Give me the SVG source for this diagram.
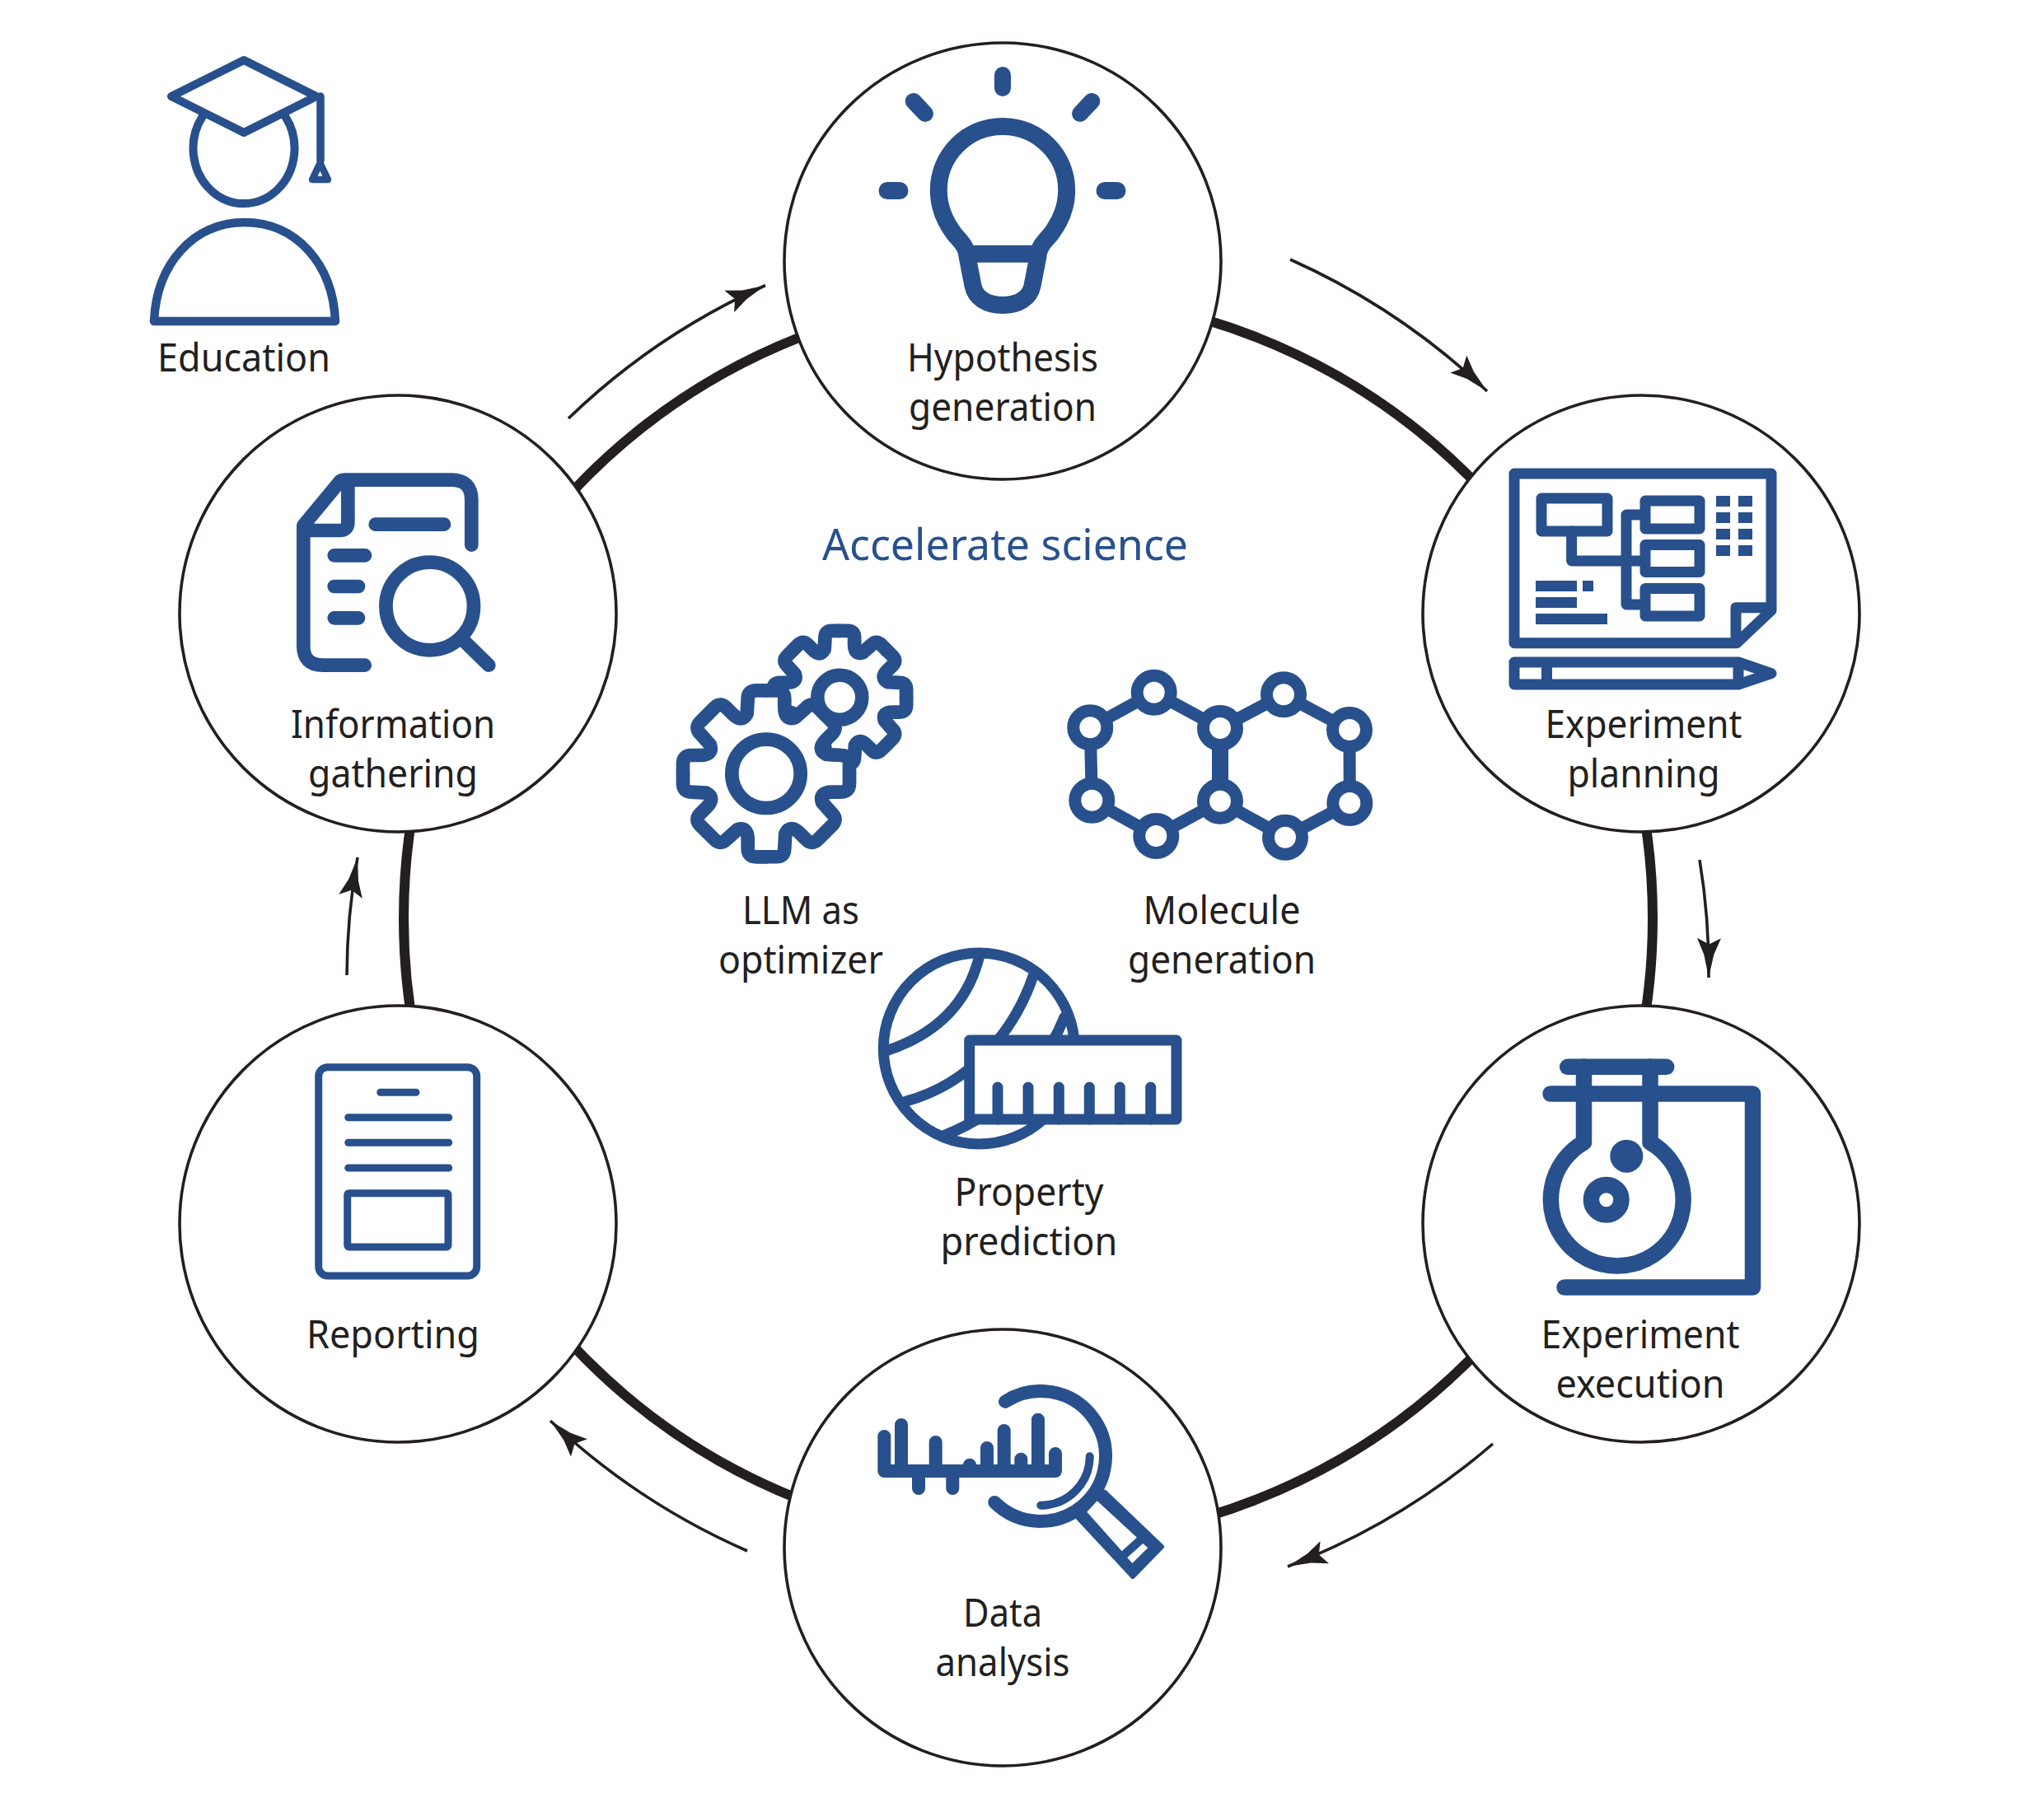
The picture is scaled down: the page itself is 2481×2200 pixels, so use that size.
<svg xmlns="http://www.w3.org/2000/svg" xmlns:xlink="http://www.w3.org/1999/xlink" width="2481" height="2200" viewBox="0 0 2481 2200">
<style>
text{font-family:"Noto Sans","Open Sans","Liberation Sans",sans-serif;font-size:47px;fill:#231f20;text-anchor:middle}
.accel{fill:#28508c;font-size:53px}
.n{fill:#fff;stroke:#231f20;stroke-width:3.6}
.i{fill:none;stroke:#28508c;stroke-linecap:round;stroke-linejoin:round}
.b{fill:#28508c;stroke:none}
.w{fill:#fff;stroke:none}
.arrow{fill:none;stroke:#231f20;stroke-width:3.6}
</style>
<defs>
<marker id="ah" markerUnits="userSpaceOnUse" viewBox="0 0 52 30" refX="50" refY="15" markerWidth="52" markerHeight="30" orient="auto"><path d="M50,15 L22,9 L2,0.5 L9.5,15 L2,29.5 L22,21 Z" fill="#231f20"/></marker>
<path id="gs" d="M0,-101 H12 Q22.3,-101 22.3,-91 V-80 Q22.3,-64 35,-68 L48.6,-80.1 Q55.6,-87.2 62.9,-79.9 L71.4,-71.4"/>
<path id="gw" d="M0,-101 H12 Q22.3,-101 22.3,-91 V-80 Q22.3,-64 35,-68 L48.6,-80.1 Q55.6,-87.2 62.9,-79.9 L71.4,-71.4 L0,0 Z"/>
</defs>
<rect width="2481" height="2200" fill="#fff"/>
<g id="connectors">
<circle cx="1248" cy="1115" r="758" fill="none" stroke="#231f20" stroke-width="12"/>
<path class="arrow" marker-end="url(#ah)" d="M690,508 A835,835 0 0 1 929,346.5"/>
<path class="arrow" marker-end="url(#ah)" d="M1566,315 A850,850 0 0 1 1805,475"/>
<path class="arrow" marker-end="url(#ah)" d="M2063,1044 A825,825 0 0 1 2074,1187"/>
<path class="arrow" marker-end="url(#ah)" d="M1812,1753 A850,850 0 0 1 1563,1902"/>
<path class="arrow" marker-end="url(#ah)" d="M907,1883 A840,840 0 0 1 668,1725"/>
<path class="arrow" marker-end="url(#ah)" d="M421,1184 A825,825 0 0 1 434,1041"/>
</g>
<g id="education">
<path class="i" stroke-width="10" d="M245.4,142 A61.5,67 0 1 0 346.6,142"/>
<path class="i" stroke-width="10" fill="#fff" d="M296,73 L384,117 L296,161 L208,117 Z"/>
<path class="i" stroke-width="9.5" d="M389,117 V195"/>
<path class="i" stroke-width="8.5" d="M388.5,198 L379,218 H398 Z"/>
<path class="i" stroke-width="10.5" d="M187,390 C190,320 235,270 297,270 C359,270 404,320 407,390 Z"/>
<text x="296" y="451" textLength="210" lengthAdjust="spacingAndGlyphs">Education</text>
</g>
<g id="hypothesis">
<circle class="n" cx="1217" cy="317" r="265"/>
<g class="i">
<path stroke-width="20" d="M1217,91 V107 M1108.8,122.9 L1123,138 M1325.2,122.9 L1311,138"/>
<path stroke-width="21" d="M1077,231.5 H1092 M1341,231.5 H1356"/>
<path stroke-width="21" d="M1217,153.4 C1260,153.4 1294.7,188 1294.7,231 C1294.7,255 1285,272 1275,285 C1266,295 1261,300 1260,311 L1253,347 C1250,362 1236,370.5 1217,370.5 C1198,370.5 1184,362 1181,347 L1174,311 C1173,300 1168,295 1159,285 C1149,272 1139.3,255 1139.3,231 C1139.3,188 1174,153.4 1217,153.4 Z M1174,308.3 H1260"/>
</g>
<text x="1217" y="451" textLength="232" lengthAdjust="spacingAndGlyphs">Hypothesis</text>
<text x="1217" y="511" textLength="228" lengthAdjust="spacingAndGlyphs">generation</text>
</g>
<g id="experiment-planning">
<circle class="n" cx="1992" cy="745" r="265"/>
<g class="i" stroke-width="13">
<path d="M1838,575 H2150 V741 L2108,780.7 H1838 Z M2107,780 V737.7 H2150"/>
<rect x="1871" y="605" width="80" height="40"/>
<path d="M1907.6,645 V681 H1990 M1990,625 H1974 V734 H1990"/>
<rect x="1997" y="608" width="66" height="34"/>
<rect x="1997" y="661.5" width="66" height="33"/>
<rect x="1997" y="714.5" width="66" height="33.5"/>
<path d="M1838,804 H2110 L2150,817.7 L2110,831 H1838 Z M1877.5,804 V831 M2110,804 V831"/>
</g>
<path class="b" d="M2083,602h17v13h-17z M2110,602h17v13h-17z M2083,622h17v13h-17z M2110,622h17v13h-17z M2083,642h17v13h-17z M2110,642h17v13h-17z M2083,662h17v13h-17z M2110,662h17v13h-17z M1864,705h50v13h-50z M1921,705h13v13h-13z M1864,725h50v13h-50z M1864,745h87v13h-87z"/>
<text x="1995" y="896" textLength="239" lengthAdjust="spacingAndGlyphs">Experiment</text>
<text x="1995" y="956" textLength="185" lengthAdjust="spacingAndGlyphs">planning</text>
</g>
<g id="experiment-execution">
<circle class="n" cx="1992" cy="1486" r="265"/>
<g class="i" stroke-width="19.5">
<path d="M1902.7,1295.3 H2022.7"/>
<path d="M1882,1328 H2127.5 V1563 H1899"/>
<path d="M1922.5,1295 V1387 A80.4,80.4 0 1 0 2003,1387 V1295"/>
<circle cx="1949.7" cy="1456.7" r="18.3"/>
</g>
<circle class="b" cx="1974.3" cy="1403.7" r="20"/>
<text x="1991" y="1637" textLength="241" lengthAdjust="spacingAndGlyphs">Experiment</text>
<text x="1991" y="1697" textLength="205" lengthAdjust="spacingAndGlyphs">execution</text>
</g>
<g id="data-analysis">
<circle class="n" cx="1217" cy="1879" r="265"/>
<g class="i" stroke-width="16">
<path d="M1073.3,1786 H1281 M1073.3,1786 V1744 M1094,1786 V1730 M1135.7,1786 V1751 M1177,1786 V1778.7 M1198,1786 V1758 M1218.7,1786 V1737 M1239.3,1786 V1771.7 M1260,1786 V1723.7 M1281,1786 V1765 M1115,1786 V1807 M1156.3,1786 V1807"/>
<path d="M1220,1701.7 A79,79 0 1 1 1207.3,1824"/>
<path stroke-width="10" d="M1322.7,1768.3 A59.5,59.5 0 0 1 1263.3,1827.7"/>
</g>
<path d="M1341,1812 L1410,1878 L1375,1914 L1308,1842 Z" fill="#28508c" stroke="#28508c" stroke-width="6" stroke-linejoin="round"/>
<path class="w" d="M1331.7,1822.3 L1380,1866.7 L1361.7,1883.3 L1319.3,1835.7 Z M1387.3,1874 L1393.3,1879.3 L1374.3,1898 L1368.3,1891 Z"/>
<text x="1217" y="1975" textLength="96" lengthAdjust="spacingAndGlyphs">Data</text>
<text x="1217" y="2035" textLength="163" lengthAdjust="spacingAndGlyphs">analysis</text>
</g>
<g id="reporting">
<circle class="n" cx="483" cy="1486" r="265"/>
<g class="i" stroke-width="9">
<rect x="386.7" y="1295.7" width="192" height="253.3" rx="11"/>
<path d="M461.7,1326.3 H505 M422.7,1356.7 H544.7 M422.7,1387.3 H544.7 M422.7,1418 H544.7"/>
<rect x="421.7" y="1448.7" width="122.3" height="65.3" rx="2"/>
</g>
<text x="477" y="1637" textLength="210" lengthAdjust="spacingAndGlyphs">Reporting</text>
</g>
<g id="information-gathering">
<circle class="n" cx="483" cy="745" r="265"/>
<g class="i" stroke-width="16.7">
<path d="M442.7,807.7 H392 Q368.3,807.7 368.3,784 V638 L413,584 Q415,582.7 418,582.7 H548 Q572.3,582.7 572.3,607 V661.7"/>
<path d="M368.3,644 H412 Q422.3,644 422.3,634 V585"/>
<path d="M455.7,636.7 H539 M405.7,674.3 H443 M405.7,712 H435 M405.7,750.3 H435"/>
<circle cx="521.7" cy="736" r="53.3"/>
<path d="M565,780 L593.3,807.7"/>
</g>
<text x="477" y="896" textLength="248" lengthAdjust="spacingAndGlyphs">Information</text>
<text x="477" y="956" textLength="206" lengthAdjust="spacingAndGlyphs">gathering</text>
</g>
<g id="accelerate-science">
<text class="accel" x="1220" y="680" textLength="444" lengthAdjust="spacingAndGlyphs">Accelerate science</text>
</g>
<g id="llm-optimizer">
<g class="i" stroke-width="21" transform="translate(1019.3,846.7) scale(.8)">
<use xlink:href="#gs"/><use xlink:href="#gs" transform="rotate(45)"/><use xlink:href="#gs" transform="rotate(90)"/><use xlink:href="#gs" transform="rotate(135)"/><use xlink:href="#gs" transform="rotate(180)"/><use xlink:href="#gs" transform="rotate(225)"/><use xlink:href="#gs" transform="rotate(270)"/><use xlink:href="#gs" transform="rotate(315)"/>
</g>
<g class="w" stroke="none" transform="translate(930,939.3)">
<use xlink:href="#gw"/><use xlink:href="#gw" transform="rotate(45)"/><use xlink:href="#gw" transform="rotate(90)"/><use xlink:href="#gw" transform="rotate(135)"/><use xlink:href="#gw" transform="rotate(180)"/><use xlink:href="#gw" transform="rotate(225)"/><use xlink:href="#gw" transform="rotate(270)"/><use xlink:href="#gw" transform="rotate(315)"/>
</g>
<g class="i" stroke-width="16.7" transform="translate(930,939.3)">
<use xlink:href="#gs"/><use xlink:href="#gs" transform="rotate(45)"/><use xlink:href="#gs" transform="rotate(90)"/><use xlink:href="#gs" transform="rotate(135)"/><use xlink:href="#gs" transform="rotate(180)"/><use xlink:href="#gs" transform="rotate(225)"/><use xlink:href="#gs" transform="rotate(270)"/><use xlink:href="#gs" transform="rotate(315)"/>
<circle r="41.7"/>
</g>
<circle cx="1019.3" cy="846.7" r="27" fill="#fff" stroke="#28508c" stroke-width="16.5"/>
<text x="972" y="1122" textLength="142" lengthAdjust="spacingAndGlyphs">LLM as</text>
<text x="972" y="1182" textLength="200" lengthAdjust="spacingAndGlyphs">optimizer</text>
</g>
<g id="molecule-generation">
<g class="i" stroke-width="15">
<path d="M1323.3,883.3 L1400.7,840.7 L1481,884 L1558,843.3 L1638,886 L1638.3,975 L1560,1016.7 L1481,972.7 L1403.3,1015 L1325.3,971.7 Z"/>
<path stroke-width="20" d="M1481,884 V972.7"/>
</g>
<g fill="#fff" stroke="#28508c" stroke-width="15">
<circle cx="1323.3" cy="883.3" r="20.5"/><circle cx="1400.7" cy="840.7" r="20.5"/><circle cx="1481" cy="884" r="20.5"/><circle cx="1558" cy="843.3" r="20.5"/><circle cx="1638" cy="886" r="20.5"/><circle cx="1638.3" cy="975" r="20.5"/><circle cx="1560" cy="1016.7" r="20.5"/><circle cx="1481" cy="972.7" r="20.5"/><circle cx="1403.3" cy="1015" r="20.5"/><circle cx="1325.3" cy="971.7" r="20.5"/>
</g>
<text x="1483" y="1122" textLength="191" lengthAdjust="spacingAndGlyphs">Molecule</text>
<text x="1483" y="1182" textLength="228" lengthAdjust="spacingAndGlyphs">generation</text>
</g>
<g id="property-prediction">
<g class="i" stroke-width="13">
<circle cx="1188.3" cy="1273" r="116"/>
<path d="M1189,1160 Q1168,1246 1075,1276 M1254,1185 C1232,1250 1180,1315 1100,1337 M1292,1235 C1270,1290 1220,1350 1147,1378"/>
<rect x="1176.7" y="1263" width="251.3" height="96" fill="#fff"/>
<path d="M1211,1320 V1359 M1248,1320 V1359 M1285.3,1320 V1359 M1322.3,1320 V1359 M1359.3,1320 V1359 M1396.7,1320 V1359"/>
</g>
<text x="1249" y="1464" textLength="181" lengthAdjust="spacingAndGlyphs">Property</text>
<text x="1249" y="1524" textLength="215" lengthAdjust="spacingAndGlyphs">prediction</text>
</g>
</svg>
